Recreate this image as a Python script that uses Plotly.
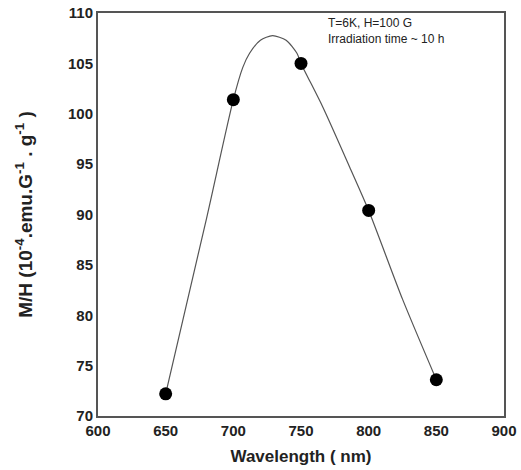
import plotly.graph_objects as go

# Measured data points
wavelength = [650, 700, 750, 800, 850]
mh = [72.2, 101.4, 105.0, 90.4, 73.6]

# Fitted curve
fit_wavelength = [650, 680, 700, 707, 712, 720, 729, 739, 747, 750, 766, 786, 800, 825, 850]
fit_mh = [72.2, 89.5, 101.4, 104.6, 106.0, 107.3, 107.75, 107.3, 106.0, 105.0, 100.7, 94.7, 90.4, 81.6, 73.6]

x_ticks = [600, 650, 700, 750, 800, 850, 900]
y_ticks = [70, 75, 80, 85, 90, 95, 100, 105, 110]

FONT = "Liberation Sans, Arial, sans-serif"

fig = go.Figure()
fig.add_trace(go.Scatter(
    x=fit_wavelength, y=fit_mh, mode="lines",
    line=dict(color="#555555", width=1.2, shape="spline", smoothing=0.7),
    hoverinfo="skip", showlegend=False,
))
fig.add_trace(go.Scatter(
    x=wavelength, y=mh, mode="markers",
    marker=dict(color="black", size=13, symbol="circle"),
    showlegend=False,
))

fig.add_annotation(
    xref="paper", yref="paper", x=0.562, y=0.956, xanchor="left", yanchor="middle",
    text="T=6K, H=100 G<br>Irradiation time ~ 10 h", align="left",
    showarrow=False, font=dict(family=FONT, size=12, color="#222222"),
)

fig.update_xaxes(
    range=[600, 900], tickvals=x_ticks, ticktext=[str(v) for v in x_ticks],
    showgrid=False, zeroline=False, showline=True, linecolor="#555555", linewidth=2,
    mirror=True, ticks="", automargin=False,
    tickfont=dict(family=FONT, size=15, color="#222222", weight="bold"),
    title=dict(text="Wavelength ( nm)", standoff=12,
               font=dict(family=FONT, size=17, color="#222222", weight="bold")),
)
fig.update_yaxes(
    range=[70, 110], tickvals=y_ticks, ticktext=[str(v) for v in y_ticks],
    showgrid=False, zeroline=False, showline=True, linecolor="#555555", linewidth=2,
    mirror=True, ticks="", automargin=False,
    tickfont=dict(family=FONT, size=15, color="#222222", weight="bold"),
    title=dict(text="M/H (10<sup>-4</sup>.emu.G<sup>-1</sup> . g<sup>-1</sup> )", standoff=30,
               font=dict(family=FONT, size=19, color="#222222", weight="bold")),
)

fig.update_layout(
    width=521, height=470,
    margin=dict(l=98, r=17, t=13, b=54),
    paper_bgcolor="white", plot_bgcolor="white",
)

fig.write_html("out.html")
